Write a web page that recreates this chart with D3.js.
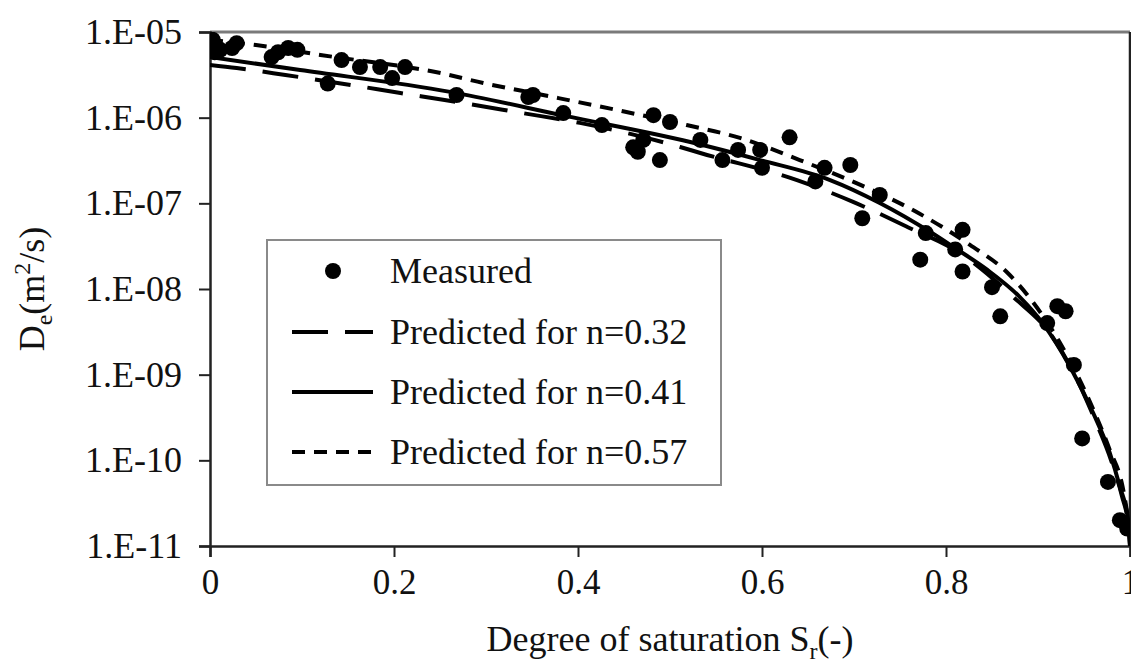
<!DOCTYPE html>
<html>
<head>
<meta charset="utf-8">
<script src="https://cdn.jsdelivr.net/npm/d3@7"></script>
<style>
  html, body { margin: 0; padding: 0; background: #fff; }
  svg text { font-family: "Liberation Serif", "Tinos", "Nimbus Roman", "Times New Roman", "DejaVu Serif", serif; fill: #111; }
</style>
</head>
<body>
<svg id="chart" width="1131" height="663"></svg>
<script>
// ---- Data ----
const measuredS = [0.003,0.003,0.005,0.011,0.024,0.029,0.067,0.074,0.085,0.095,0.128,0.143,0.163,0.185,0.198,0.212,
  0.268,0.346,0.351,0.384,0.426,0.460,0.465,0.471,0.482,0.489,0.500,0.533,0.557,0.574,0.598,0.600,0.630,0.658,0.668,
  0.696,0.709,0.728,0.772,0.778,0.810,0.818,0.818,0.850,0.859,0.910,0.921,0.930,0.939,0.948,0.976,0.989,0.997];
const measuredDe = [8.1e-6,7.0e-6,5.8e-6,6.2e-6,6.5e-6,7.4e-6,5.1e-6,5.8e-6,6.5e-6,6.2e-6,2.5e-6,4.7e-6,3.9e-6,3.9e-6,2.9e-6,3.9e-6,
  1.84e-6,1.74e-6,1.84e-6,1.13e-6,8.2e-7,4.5e-7,4.0e-7,5.5e-7,1.07e-6,3.2e-7,8.9e-7,5.5e-7,3.2e-7,4.2e-7,4.2e-7,2.6e-7,5.9e-7,1.8e-7,2.6e-7,
  2.8e-7,6.7e-8,1.25e-7,2.2e-8,4.5e-8,2.9e-8,4.9e-8,1.6e-8,1.05e-8,4.8e-9,4.0e-9,6.3e-9,5.5e-9,1.3e-9,1.8e-10,5.6e-11,2.0e-11,1.6e-11];

// Predicted n = 0.32 (long dash)
const predS032  = [0,0.029,0.082,0.154,0.207,0.255,0.340,0.402,0.511,0.533,0.638,0.699,0.758,0.815,0.873,0.916,0.940,0.962,0.980,0.991,0.998,1.0];
const predDe032 = [4.12e-6,3.80e-6,3.15e-6,2.40e-6,1.94e-6,1.61e-6,1.13e-6,8.7e-7,4.55e-7,3.87e-7,1.87e-7,1.04e-7,5.3e-8,2.63e-8,8.1e-9,2.75e-9,9.9e-10,2.96e-10,9.6e-11,3.9e-11,1.76e-11,1.0e-11];
// Predicted n = 0.41 (solid)
const predS041  = [0,0.098,0.261,0.386,0.522,0.598,0.674,0.728,0.783,0.808,0.845,0.880,0.905,0.935,0.960,0.978,0.989,0.998,1.0];
const predDe041 = [5.1e-6,3.6e-6,2.0e-6,1.05e-6,5.2e-7,3.2e-7,1.87e-7,1.01e-7,4.62e-8,3.09e-8,1.67e-8,8.1e-9,4.0e-9,1.23e-9,3.57e-10,1.22e-10,4.9e-11,2.0e-11,1.0e-11];
// Predicted n = 0.57 (short dash)
const predS057  = [0,0.05,0.120,0.255,0.297,0.362,0.442,0.518,0.576,0.641,0.707,0.770,0.826,0.866,0.895,0.924,0.954,0.978,0.992,1.0];
const predDe057 = [8.1e-6,7.05e-6,5.4e-6,3.24e-6,2.54e-6,1.84e-6,1.23e-6,8.2e-7,5.8e-7,3.2e-7,1.64e-7,7.7e-8,3.27e-8,1.58e-8,6.9e-9,2.34e-9,5.5e-10,1.32e-10,4.9e-11,1.5e-11];

const xTicks = [0, 0.2, 0.4, 0.6, 0.8, 1];
const xTickLabels = ["0", "0.2", "0.4", "0.6", "0.8", "1"];
const yTicks = [1e-5, 1e-6, 1e-7, 1e-8, 1e-9, 1e-10, 1e-11];
const yTickLabels = ["1.E-05","1.E-06","1.E-07","1.E-08","1.E-09","1.E-10","1.E-11"];
const legendLabels = ["Measured","Predicted for n=0.32","Predicted for n=0.41","Predicted for n=0.57"];

// ---- Layout ----
const FONT = '"Liberation Serif", "Tinos", "Nimbus Roman", "Times New Roman", "DejaVu Serif", serif';
const svg = d3.select("#chart");
const L = 210, R = 1130, T = 32, B = 546;
const x = d3.scaleLinear().domain([0, 1]).range([L, R]);
const y = d3.scaleLog().domain([1e-11, 1e-5]).range([B, T]);

svg.append("defs").append("clipPath").attr("id", "plotclip")
  .append("rect").attr("x", L).attr("y", T).attr("width", R - L).attr("height", B - T);

// frame: top (gray) and right (black)
svg.append("line").attr("x1", L).attr("x2", R).attr("y1", T).attr("y2", T)
  .attr("stroke", "#7a7a7a").attr("stroke-width", 3);
svg.append("line").attr("x1", R).attr("x2", R).attr("y1", T).attr("y2", B)
  .attr("stroke", "#222").attr("stroke-width", 2.5);

// axes
const xAxis = d3.axisBottom(x).tickValues(xTicks)
  .tickFormat((d, i) => xTickLabels[i]).tickSize(11).tickPadding(12);
const gx = svg.append("g").attr("transform", `translate(0,${B})`).call(xAxis)
  .attr("font-family", null).attr("font-size", null);
gx.select(".domain").attr("stroke", "#222").attr("stroke-width", 2.5);
gx.selectAll(".tick line").attr("stroke", "#222").attr("stroke-width", 2);
gx.selectAll(".tick text").attr("font-size", 35).attr("fill", "#111").style("font-family", FONT);

const yAxis = d3.axisLeft(y).tickValues(yTicks)
  .tickFormat((d, i) => yTickLabels[i]).tickSize(11).tickPadding(17);
const gy = svg.append("g").attr("transform", `translate(${L},0)`).call(yAxis)
  .attr("font-family", null).attr("font-size", null);
gy.select(".domain").attr("stroke", "#222").attr("stroke-width", 2.5);
gy.selectAll(".tick line").attr("stroke", "#222").attr("stroke-width", 2);
gy.selectAll(".tick text").attr("font-size", 36).attr("fill", "#111").style("font-family", FONT);

// curves
const plot = svg.append("g").attr("clip-path", "url(#plotclip)");
const line = d3.line().x(d => x(d[0])).y(d => y(d[1])).curve(d3.curveMonotoneX);
const series = [
  { s: predS032, v: predDe032, dash: "36,17" },
  { s: predS041, v: predDe041, dash: null },
  { s: predS057, v: predDe057, dash: "13,9" }
];
series.forEach(sr => {
  plot.append("path").datum(sr.s.map((s, i) => [s, sr.v[i]]))
    .attr("d", line).attr("fill", "none").attr("stroke", "#000")
    .attr("stroke-width", 4).attr("stroke-dasharray", sr.dash);
});

// measured points
plot.selectAll("circle.m").data(measuredS.map((s, i) => [s, measuredDe[i]]))
  .enter().append("circle").attr("class", "m")
  .attr("cx", d => x(d[0])).attr("cy", d => y(d[1])).attr("r", 8).attr("fill", "#000");

// legend
const lg = svg.append("g");
lg.append("rect").attr("x", 267).attr("y", 240).attr("width", 454).attr("height", 245)
  .attr("fill", "#fff").attr("stroke", "#8a8a8a").attr("stroke-width", 2);
const rowsY = [271, 332, 392, 452];
lg.append("circle").attr("cx", 333).attr("cy", rowsY[0]).attr("r", 8).attr("fill", "#000");
const lgDash = ["36,17", null, "13,9"];
for (let i = 0; i < 3; i++) {
  lg.append("line").attr("x1", 292).attr("x2", 373).attr("y1", rowsY[i + 1]).attr("y2", rowsY[i + 1])
    .attr("stroke", "#000").attr("stroke-width", 4).attr("stroke-dasharray", lgDash[i]);
}
legendLabels.forEach((t, i) => {
  lg.append("text").attr("x", 390).attr("y", rowsY[i] + 12).attr("font-size", 36).style("font-family", FONT).text(t);
});

// axis titles
const xt = svg.append("text").attr("x", 670).attr("y", 651).attr("text-anchor", "middle")
  .attr("font-size", 36).style("font-family", FONT);
xt.append("tspan").text("Degree of saturation S");
xt.append("tspan").attr("font-size", 24).attr("dy", 8).text("r");
xt.append("tspan").attr("dy", -8).text("(-)");

const yt = svg.append("text").attr("transform", "translate(44,289) rotate(-90)")
  .attr("text-anchor", "middle").attr("font-size", 36).style("font-family", FONT);
yt.append("tspan").text("D");
yt.append("tspan").attr("font-size", 24).attr("dy", 8).text("e");
yt.append("tspan").attr("dy", -8).text("(m");
yt.append("tspan").attr("font-size", 24).attr("dy", -14).text("2");
yt.append("tspan").attr("dy", 14).text("/s)");
</script>
</body>
</html>
